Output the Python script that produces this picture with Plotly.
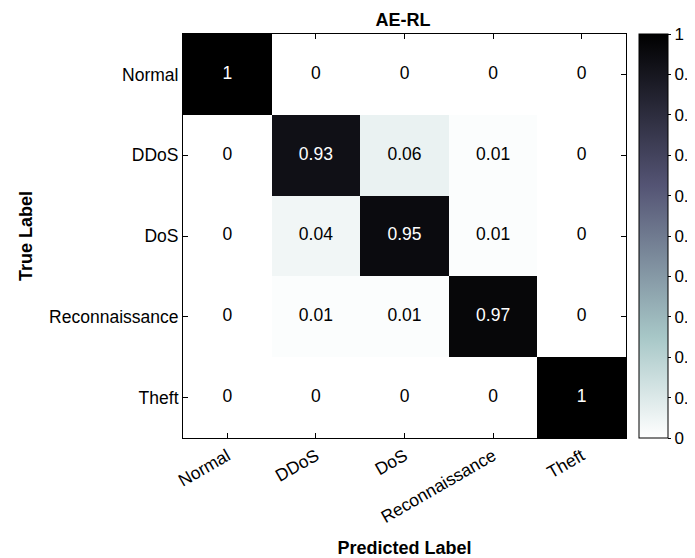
import plotly.graph_objects as go

classes = ["Normal", "DDoS", "DoS", "Reconnaissance", "Theft"]
row_normal = [1, 0, 0, 0, 0]
row_ddos = [0, 0.93, 0.06, 0.01, 0]
row_dos = [0, 0.04, 0.95, 0.01, 0]
row_recon = [0, 0.01, 0.01, 0.97, 0]
row_theft = [0, 0, 0, 0, 1]
matrix = [row_normal, row_ddos, row_dos, row_recon, row_theft]
cbar_ticks = [0, 0.1, 0.2, 0.3, 0.4, 0.5, 0.6, 0.7, 0.8, 0.9, 1]

# reversed MATLAB "bone" colormap
bone_r = [
    [0.0, "rgb(255,255,255)"],
    [0.25, "rgb(167,199,199)"],
    [0.625, "rgb(84,84,116)"],
    [1.0, "rgb(0,0,0)"],
]

FONT = "Liberation Sans, Arial, Helvetica, sans-serif"

fig = go.Figure()
fig.add_trace(go.Heatmap(
    z=matrix, x=classes, y=classes,
    colorscale=bone_r, zmin=0, zmax=1,
    hoverinfo="skip",
    colorbar=dict(
        thickness=29, thicknessmode="pixels",
        len=1, lenmode="fraction", y=0.5, yanchor="middle",
        x=1.0293, xanchor="left", xpad=0, ypad=0,
        outlinewidth=1, outlinecolor="black",
        ticks="outside", ticklen=3, tickcolor="black",
        tickvals=cbar_ticks, ticktext=[f"{v:g}" for v in cbar_ticks],
        tickfont=dict(family=FONT, size=17, color="black"),
    ),
))

tx, ty, tt, tc = [], [], [], []
for i, row in enumerate(matrix):
    for j, v in enumerate(row):
        tx.append(classes[j]); ty.append(classes[i])
        tt.append(f"{v:g}")
        tc.append("white" if v > 0.5 else "black")
fig.add_trace(go.Scatter(
    x=tx, y=ty, mode="text", text=tt,
    textfont=dict(family=FONT, size=17.5, color=tc),
    hoverinfo="skip", showlegend=False,
))

axis_common = dict(
    showgrid=False, zeroline=False, showline=True, linecolor="black", linewidth=1,
    mirror="ticks", ticks="inside", ticklen=5, tickcolor="black",
    tickfont=dict(family=FONT, size=17.5, color="black"),
)
fig.update_xaxes(**axis_common, tickangle=-30, categoryorder="array", categoryarray=classes,
                 title=dict(text="<b>Predicted Label</b>", font=dict(family=FONT, size=18, color="black"), standoff=15))
fig.update_yaxes(**axis_common, autorange="reversed", categoryorder="array", categoryarray=classes,
                 title=dict(text="<b>True Label</b>", font=dict(family=FONT, size=18, color="black"), standoff=11))

fig.update_layout(
    width=695, height=550,
    margin=dict(l=175, r=77, t=26, b=120, autoexpand=False),
    paper_bgcolor="white", plot_bgcolor="white",
    title=dict(text="<b>AE-RL</b>", x=(403 - 8) / 695, xanchor="center", y=1 - 11.5 / 550, yanchor="middle",
               font=dict(family=FONT, size=18, color="black")),
    showlegend=False,
)

fig.write_html("out.html")
